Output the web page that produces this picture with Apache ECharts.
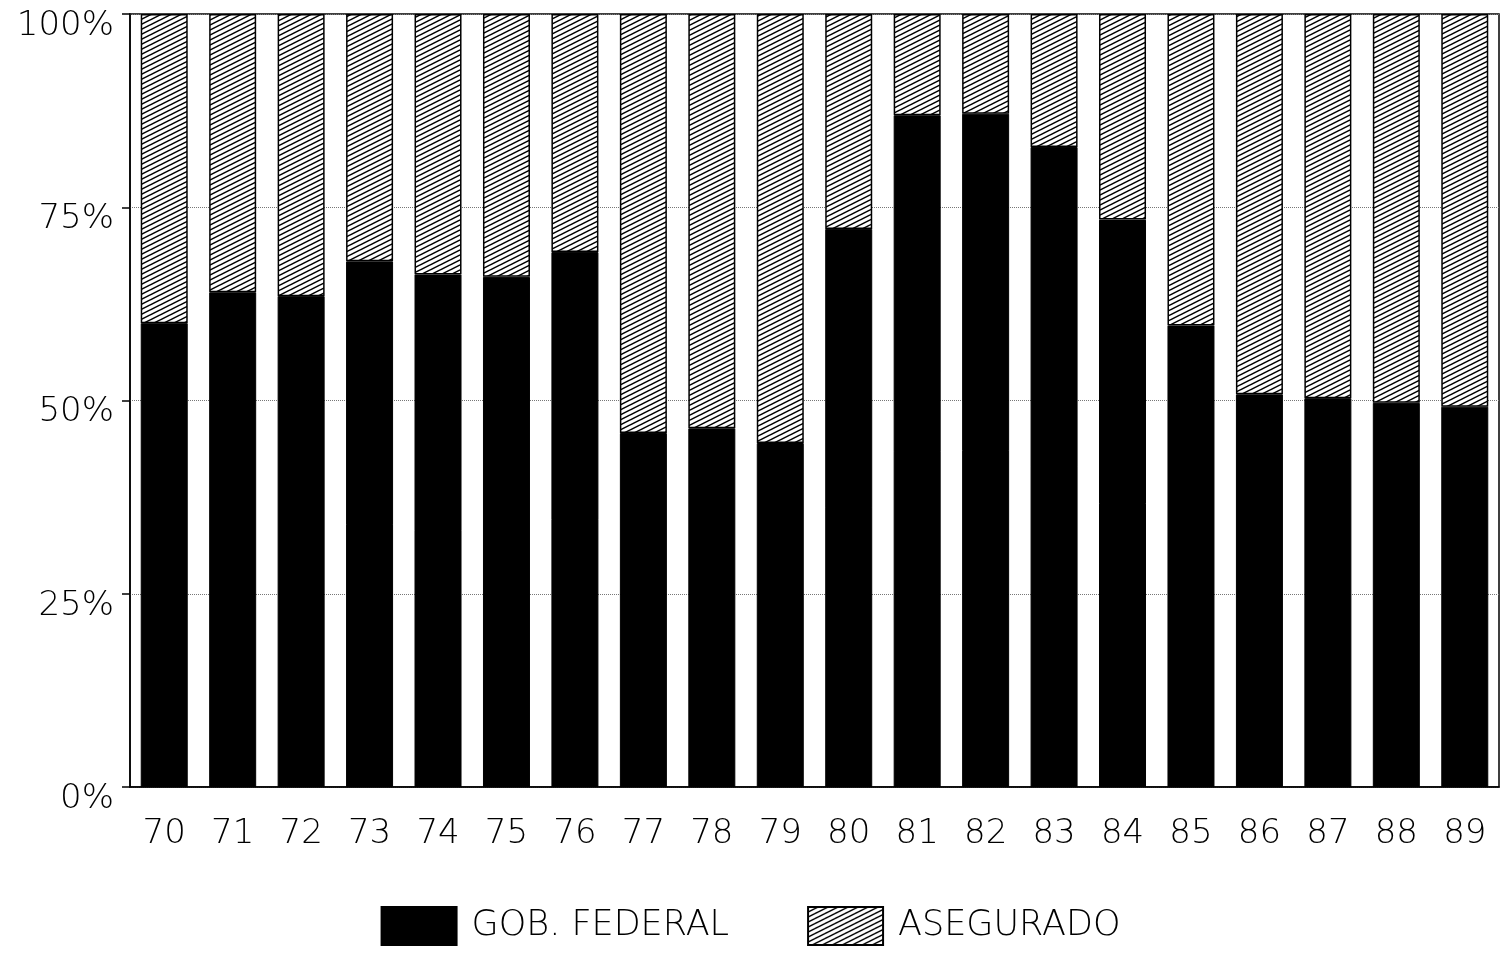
<!DOCTYPE html>
<html>
<head>
<meta charset="utf-8">
<script src="https://cdn.jsdelivr.net/npm/echarts@6/dist/echarts.min.js"></script>
<style>
  html, body { margin: 0; padding: 0; background: #fff; }
  #chart { width: 1501px; height: 953px; }
</style>
</head>
<body>
<div id="chart"></div>
<script>
var years = ['70', '71', '72', '73', '74', '75', '76', '77', '78', '79',
             '80', '81', '82', '83', '84', '85', '86', '87', '88', '89'];
var gobFederal = [60, 64, 63.5, 68, 66.3, 66, 69.2, 45.8, 46.4, 44.5,
                  72.2, 86.9, 87.1, 82.8, 73.4, 59.7, 50.8, 50.3, 49.7, 49.2];
var asegurado = gobFederal.map(function (v) { return +(100 - v).toFixed(1); });
var yTicks = ['0%', '25%', '50%', '75%', '100%'];

// diagonal hatch like the old plotter fill
function hatch() {
  var c = document.createElement('canvas');
  c.width = 10; c.height = 5;
  var ctx = c.getContext('2d');
  ctx.fillStyle = '#fff';
  ctx.fillRect(0, 0, 10, 5);
  ctx.strokeStyle = '#000';
  ctx.lineWidth = 1.5;
  for (var k = -1; k <= 1; k++) {
    ctx.beginPath();
    ctx.moveTo(-10, 10 + k * 5);
    ctx.lineTo(20, -5 + k * 5);
    ctx.stroke();
  }
  return c;
}

var font = 'DejaVu Sans';
var chart = echarts.init(document.getElementById('chart'));
var option = {
  backgroundColor: '#fff',
  animation: false,
  grid: {
    left: 130, right: 2, top: 14, bottom: 166,
    show: true, borderColor: '#000', borderWidth: 1.5
  },
  legend: {
    bottom: 2,
    left: 'center',
    itemWidth: 75,
    itemHeight: 38,
    itemGap: 78,
    icon: 'rect',
    textStyle: { color: '#000', fontSize: 35, fontFamily: font, fontWeight: 200, padding: [0, 0, 0, 10] },
    data: ['GOB. FEDERAL', 'ASEGURADO']
  },
  xAxis: {
    type: 'category',
    data: years,
    axisLine: { lineStyle: { color: '#000', width: 1.5 } },
    axisTick: { show: false },
    axisLabel: { color: '#000', fontSize: 34, fontFamily: font, fontWeight: 200, margin: 30 }
  },
  yAxis: {
    type: 'value',
    min: 0, max: 100, interval: 25,
    axisLine: { show: true, lineStyle: { color: '#000', width: 1.5 } },
    axisTick: { show: true, length: 8, lineStyle: { color: '#000', width: 1.5 } },
    splitLine: { lineStyle: { color: '#777', type: 'dotted', width: 1 } },
    axisLabel: {
      margin: 16,
      formatter: function (v) { return '{t|' + yTicks[v / 25] + '}'; },
      rich: {
        t: { color: '#000', fontSize: 34, fontFamily: font, fontWeight: 200, padding: [24, 0, 0, 0] }
      }
    }
  },
  series: [
    {
      name: 'GOB. FEDERAL',
      type: 'bar',
      stack: 'total',
      barWidth: 47,
      data: gobFederal,
      itemStyle: { color: '#000', borderColor: '#000', borderWidth: 1 }
    },
    {
      name: 'ASEGURADO',
      type: 'bar',
      stack: 'total',
      barWidth: 47,
      data: asegurado,
      itemStyle: {
        color: { image: hatch(), repeat: 'repeat' },
        borderColor: '#000', borderWidth: 1.5
      }
    }
  ]
};
chart.setOption(option);
</script>
</body>
</html>
